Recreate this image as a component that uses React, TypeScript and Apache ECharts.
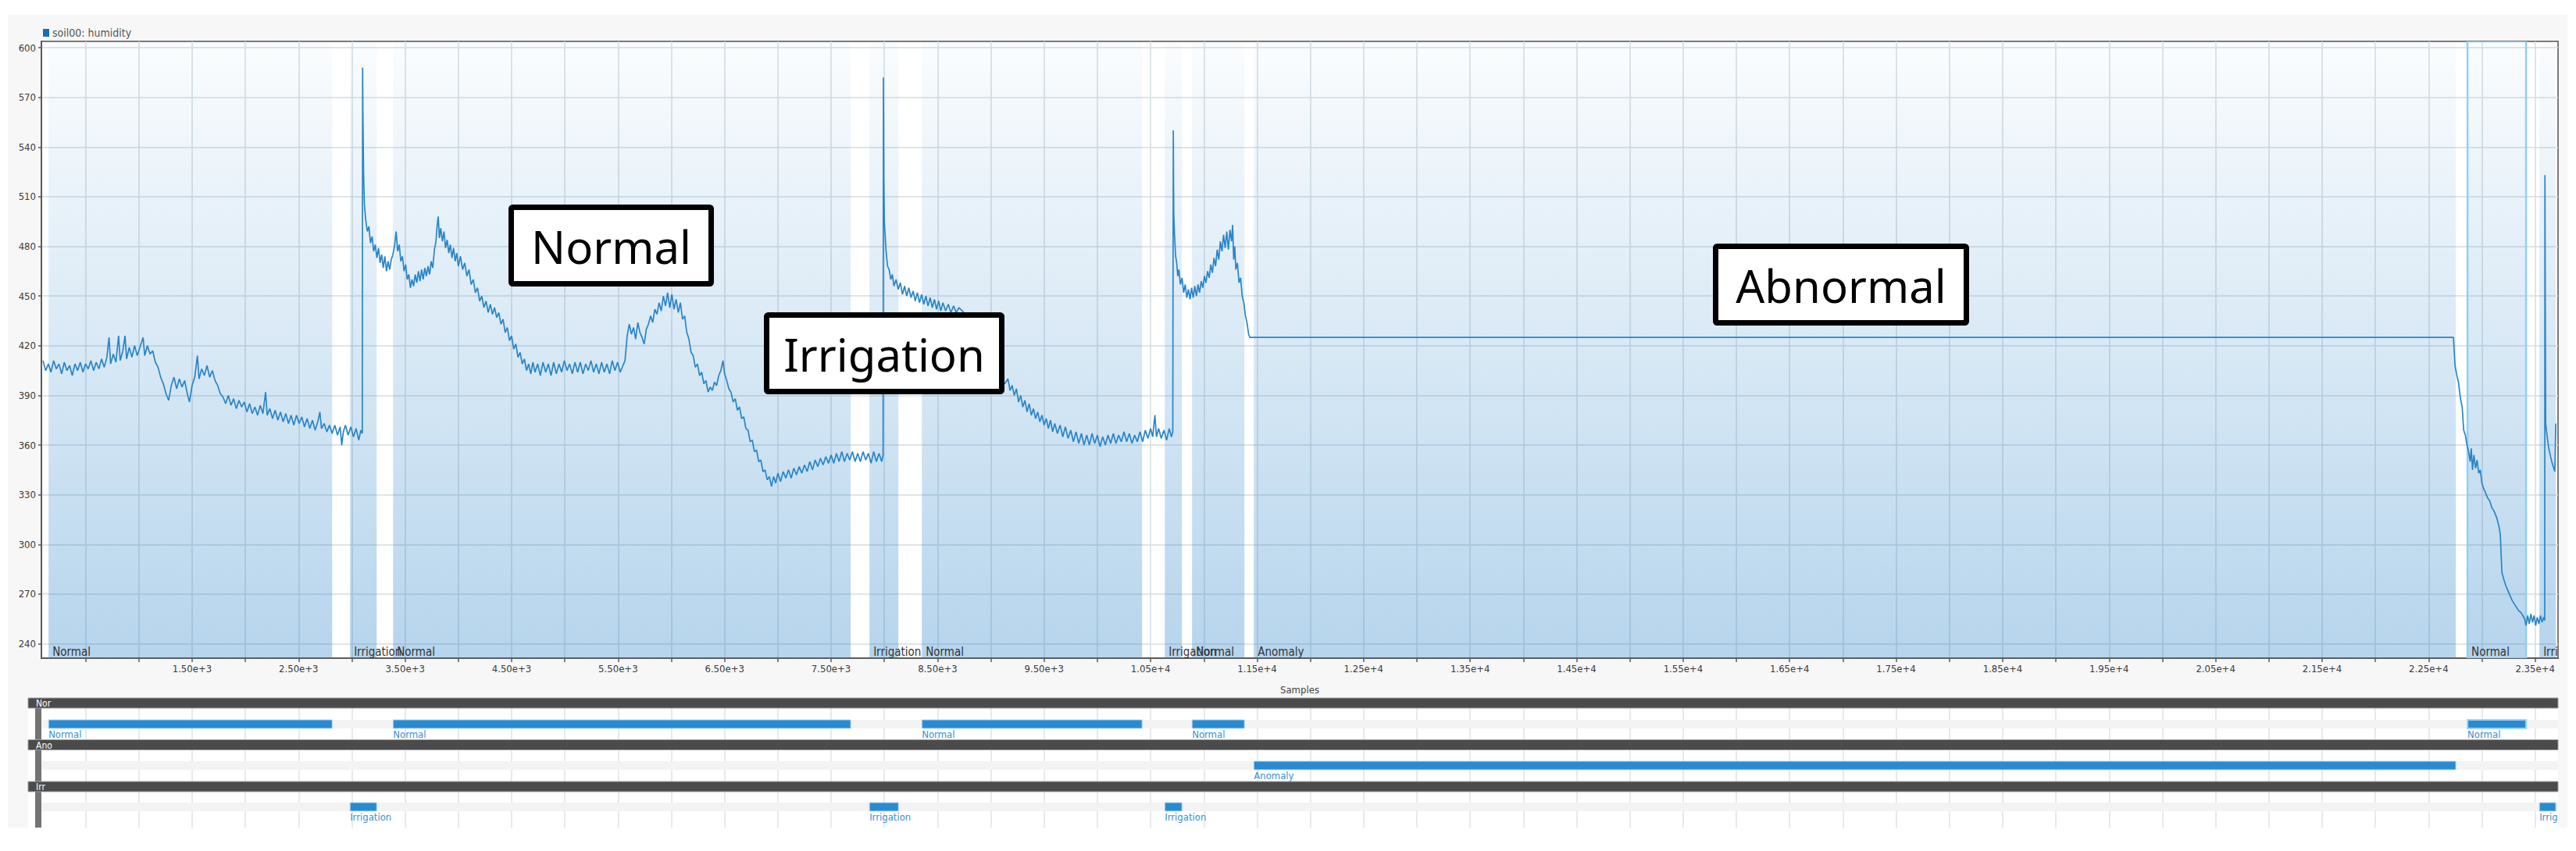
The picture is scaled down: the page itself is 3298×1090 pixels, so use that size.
import React, { useEffect, useRef } from 'react';
import * as echarts from 'echarts';

const SERIES_NAME = 'soil00: humidity';
const X_NAME = 'Samples';

// ---- humidity trace: [sample, value] ----
const trace1: number[][] = [
  [100, 411], [125, 405], [150, 409], [175, 404], [200, 411], [225, 406], [250, 409], [275, 403], [300, 410],
  [325, 405], [350, 408], [375, 402], [400, 409], [425, 405], [450, 410], [475, 404], [500, 409], [525, 406],
  [550, 411], [575, 405], [600, 410], [625, 406], [650, 412], [675, 407], [700, 413], [720, 425], [735, 409],
  [760, 415], [785, 410], [810, 426], [825, 411], [850, 417], [870, 426], [885, 412], [910, 419], [935, 413],
  [960, 420], [985, 414], [1010, 419], [1040, 425], [1055, 414], [1080, 420], [1105, 415], [1130, 417],
  [1155, 410], [1180, 407], [1205, 401], [1230, 397], [1255, 391], [1280, 387], [1305, 396], [1330, 401],
  [1355, 394], [1380, 400], [1405, 395], [1430, 399], [1455, 391], [1475, 386], [1500, 396], [1525, 401],
  [1550, 414], [1565, 400], [1590, 406], [1615, 402], [1640, 408], [1665, 401], [1690, 405], [1715, 399],
  [1740, 396], [1765, 391], [1790, 389], [1815, 385], [1840, 390], [1865, 384], [1890, 388], [1915, 382],
  [1940, 387], [1965, 383], [1990, 386], [2015, 380], [2040, 385], [2065, 379], [2090, 383], [2115, 378],
  [2140, 384], [2165, 379], [2190, 392], [2205, 378], [2230, 382], [2255, 376], [2280, 381], [2305, 375],
  [2330, 380], [2355, 374], [2380, 379], [2405, 373], [2430, 378], [2455, 372], [2480, 378], [2505, 373],
  [2530, 377], [2555, 371], [2580, 376], [2605, 370], [2630, 375], [2655, 369], [2680, 374], [2700, 380],
  [2715, 370], [2740, 373], [2765, 368], [2790, 372], [2815, 367], [2840, 372], [2865, 366], [2890, 371],
  [2905, 360], [2920, 368], [2940, 372], [2965, 366], [2990, 371], [3015, 365], [3040, 370], [3065, 363],
  [3085, 369], [3098, 367],
];

const trace2: number[][] = [
  [3101, 588], [3104, 560], [3110, 525], [3118, 505], [3130, 496], [3145, 489], [3160, 492], [3175, 482],
  [3190, 486], [3205, 477], [3220, 481], [3235, 473], [3250, 479], [3265, 470], [3280, 475], [3295, 467],
  [3310, 474], [3325, 465], [3340, 471], [3355, 466], [3370, 472], [3385, 475], [3400, 480], [3416, 489],
  [3430, 477], [3445, 481], [3460, 471], [3475, 474], [3490, 465], [3505, 469], [3520, 460], [3535, 463],
  [3550, 455], [3565, 460], [3580, 456], [3595, 463], [3610, 458], [3625, 465], [3640, 459], [3655, 466],
  [3670, 460], [3685, 467], [3700, 462], [3715, 468], [3730, 463], [3745, 471], [3760, 467], [3775, 478],
  [3790, 483], [3800, 492], [3811, 498], [3822, 485], [3835, 491], [3850, 483], [3865, 489], [3880, 479],
  [3895, 484], [3910, 476], [3925, 481], [3940, 473], [3955, 479], [3970, 471], [3985, 476], [4000, 468],
  [4020, 474], [4040, 466], [4060, 470], [4080, 462], [4100, 466], [4120, 457], [4140, 460], [4160, 452],
  [4180, 455], [4200, 447], [4220, 450], [4240, 443], [4260, 447], [4280, 440], [4300, 445], [4320, 439],
  [4340, 443], [4360, 437], [4380, 440], [4400, 433], [4420, 436], [4440, 428], [4460, 431], [4480, 423],
  [4500, 426], [4520, 418], [4540, 421], [4560, 413], [4580, 416], [4600, 409], [4620, 412], [4640, 405],
  [4660, 409], [4680, 403], [4700, 410], [4720, 404], [4745, 409], [4770, 402], [4795, 410], [4820, 404],
  [4845, 409], [4870, 402], [4895, 410], [4920, 403], [4945, 409], [4970, 404], [4995, 411], [5020, 405],
  [5045, 409], [5070, 403], [5095, 410], [5120, 404], [5145, 410], [5170, 403], [5195, 409], [5220, 405],
  [5245, 411], [5270, 404], [5295, 409], [5320, 403], [5345, 410], [5370, 404], [5395, 409], [5420, 403],
  [5445, 411], [5470, 405], [5495, 410], [5520, 404], [5545, 408], [5565, 411], [5585, 426], [5605, 433],
  [5625, 427], [5645, 431], [5665, 424], [5685, 434], [5705, 428], [5725, 425], [5745, 421], [5765, 430],
  [5785, 433], [5805, 438], [5825, 434], [5845, 442], [5865, 439], [5885, 446], [5905, 441], [5925, 450],
  [5945, 444], [5965, 452], [5985, 443], [6005, 451], [6025, 442], [6045, 448], [6065, 440], [6085, 446],
  [6105, 436], [6125, 438], [6145, 428], [6165, 424], [6185, 416], [6205, 414], [6225, 407], [6245, 409],
  [6265, 402], [6285, 404], [6305, 397], [6325, 399], [6345, 392], [6365, 395], [6385, 393], [6405, 398],
  [6425, 396], [6445, 402], [6465, 405], [6485, 411], [6500, 403], [6520, 399], [6540, 394], [6560, 392],
  [6580, 386], [6600, 388], [6620, 381], [6640, 383], [6660, 376], [6680, 377], [6700, 370], [6720, 369],
  [6740, 362], [6760, 363], [6780, 356], [6800, 357], [6820, 350], [6840, 351], [6860, 344], [6880, 345],
  [6900, 339], [6920, 341], [6940, 335], [6960, 341], [6980, 337], [7000, 343], [7025, 338], [7050, 344],
  [7075, 340], [7100, 345], [7125, 340], [7150, 346], [7175, 342], [7200, 347], [7225, 343], [7250, 348],
  [7275, 344], [7300, 350], [7325, 345], [7350, 351], [7375, 347], [7400, 352], [7425, 348], [7450, 353],
  [7475, 349], [7500, 354], [7525, 349], [7550, 355], [7575, 350], [7600, 356], [7625, 350], [7650, 355],
  [7675, 351], [7700, 356], [7725, 350], [7750, 355], [7775, 350], [7800, 356], [7825, 351], [7850, 355],
  [7875, 349], [7900, 356], [7925, 350], [7950, 355], [7975, 350], [7988, 354],
];

const trace3: number[][] = [
  [7991, 582], [7995, 520], [8000, 495], [8015, 478], [8030, 468], [8045, 466], [8060, 460], [8075, 463],
  [8090, 456], [8110, 460], [8130, 454], [8150, 458], [8170, 451], [8190, 456], [8210, 450], [8230, 455],
  [8250, 449], [8270, 453], [8290, 447], [8310, 452], [8330, 446], [8350, 451], [8370, 445], [8390, 450],
  [8410, 444], [8430, 449], [8450, 443], [8470, 448], [8490, 442], [8510, 447], [8530, 441], [8550, 446],
  [8575, 441], [8600, 445], [8625, 440], [8650, 444], [8675, 440], [8700, 443], [8733, 441], [8780, 437],
  [8830, 430], [8880, 422], [8930, 414], [8980, 408], [9030, 404], [9080, 400], [9130, 397], [9160, 400],
  [9180, 393], [9200, 396], [9220, 390], [9240, 394], [9260, 386], [9280, 390], [9300, 383], [9320, 387],
  [9340, 380], [9360, 385], [9380, 378], [9400, 382], [9420, 376], [9440, 380], [9460, 374], [9480, 378],
  [9500, 372], [9520, 376], [9540, 370], [9560, 375], [9580, 368], [9600, 373], [9625, 367], [9650, 372],
  [9675, 365], [9700, 371], [9725, 364], [9750, 369], [9775, 362], [9800, 368], [9825, 361], [9850, 367],
  [9875, 360], [9900, 366], [9925, 360], [9950, 367], [9975, 361], [10000, 366], [10025, 359], [10050, 365],
  [10075, 360], [10100, 366], [10125, 361], [10150, 367], [10175, 361], [10200, 366], [10225, 362],
  [10250, 368], [10275, 362], [10300, 367], [10325, 361], [10350, 366], [10375, 362], [10400, 368],
  [10425, 362], [10450, 369], [10475, 364], [10500, 370], [10520, 365], [10540, 378], [10555, 365],
  [10575, 370], [10600, 364], [10625, 369], [10650, 363], [10675, 370], [10695, 365], [10708, 368],
];

const trace4: number[][] = [
  [10713, 550], [10717, 500], [10725, 486], [10735, 474], [10745, 470], [10755, 462], [10765, 466],
  [10780, 457], [10795, 461], [10810, 452], [10825, 457], [10840, 449], [10855, 454], [10870, 448],
  [10885, 455], [10900, 449], [10915, 456], [10930, 450], [10945, 457], [10960, 452], [10975, 459],
  [10990, 455], [11005, 462], [11020, 458], [11035, 465], [11050, 461], [11065, 469], [11080, 464],
  [11095, 473], [11110, 468], [11125, 478], [11140, 472], [11155, 483], [11170, 477], [11185, 487],
  [11200, 479], [11215, 489], [11230, 478], [11245, 490], [11260, 483], [11270, 493], [11280, 472],
  [11290, 480], [11300, 466], [11315, 470], [11330, 458], [11345, 461], [11360, 450], [11375, 446],
  [11390, 438], [11405, 434], [11420, 427], [11432, 425],
];

const flatAnomaly: number[][] = [[11432, 425], [22733, 425]];

const trace5: number[][] = [
  [22748, 408], [22765, 402], [22780, 398], [22799, 388], [22815, 383], [22829, 369], [22845, 366],
  [22860, 360], [22875, 356], [22890, 350], [22900, 358], [22912, 345], [22925, 354], [22940, 346],
  [22955, 351], [22970, 343], [22985, 345], [23000, 337], [23015, 334], [23035, 331], [23055, 328],
  [23075, 326], [23095, 322], [23115, 320], [23140, 316], [23160, 311], [23173, 306], [23180, 295],
  [23188, 283], [23205, 279], [23225, 275], [23245, 272], [23265, 269], [23285, 266], [23305, 264],
  [23325, 262], [23345, 260], [23365, 259], [23385, 257], [23401, 255], [23415, 251], [23430, 257],
  [23445, 252], [23460, 258], [23475, 253], [23490, 257], [23505, 251], [23520, 256], [23535, 252],
  [23550, 257], [23565, 253], [23580, 256], [23590, 254], [23592, 523], [23599, 373], [23615, 364],
  [23628, 358], [23645, 353], [23660, 349], [23675, 346], [23685, 344], [23694, 373],
];

// ---- labelled regions [start sample, end sample] ----
const normalRanges: number[][] = [[152, 2815], [3387, 7684], [8352, 10420], [10889, 11381], [22865, 23415]];
const irrigationRanges: number[][] = [[2983, 3233], [7860, 8132], [10633, 10794], [23540, 23694]];
const anomalyRanges: number[][] = [[11469, 22755]];
const selectedRange = [22865, 23415];

const regionKinds = ['Normal', 'Irrigation', 'Anomaly'];
const timelineRows = ['Nor', 'Ano', 'Irr'];

// ---- axes ----
const X_MIN = 85;
const X_MAX = 23715;
const Y_MIN = 231.3;
const Y_MAX = 603.8;
const xTickValues = [
  500, 1000, 1500, 2000, 2500, 3000, 3500, 4000, 4500, 5000, 5500, 6000, 6500, 7000, 7500, 8000, 8500, 9000,
  9500, 10000, 10500, 11000, 11500, 12000, 12500, 13000, 13500, 14000, 14500, 15000, 15500, 16000, 16500,
  17000, 17500, 18000, 18500, 19000, 19500, 20000, 20500, 21000, 21500, 22000, 22500, 23000, 23500,
];
const xLabelValues = [
  1500, 2500, 3500, 4500, 5500, 6500, 7500, 8500, 9500, 10500, 11500, 12500, 13500, 14500, 15500, 16500,
  17500, 18500, 19500, 20500, 21500, 22500, 23500,
];
const yTickValues = [240, 270, 300, 330, 360, 390, 420, 450, 480, 510, 540, 570, 600];

const annotations = [
  { text: 'Normal', box: [654.5, 265.5, 256, 98] },
  { text: 'Irrigation', box: [981.5, 403.5, 301, 98] },
  { text: 'Abnormal', box: [2196.5, 315.5, 321, 98] },
];

const NARROW = "'Liberation Sans Narrow', 'Arial Narrow', 'DejaVu Sans Condensed', 'Liberation Sans', sans-serif";

function buildOption() {
  const lineData = [...trace1, ...trace2, ...trace3, ...trace4, ...flatAnomaly, ...trace5];

  const regionData: number[][] = [
    ...normalRanges.map((r) => [r[0], r[1], 0]),
    ...irrigationRanges.map((r) => [r[0], r[1], 1]),
    ...anomalyRanges.map((r) => [r[0], r[1], 2]),
  ];
  // timeline rows: 0 = Nor, 1 = Ano, 2 = Irr
  const timelineData: number[][] = [
    ...normalRanges.map((r) => [r[0], r[1], 0, 0]),
    ...anomalyRanges.map((r) => [r[0], r[1], 1, 2]),
    ...irrigationRanges.map((r) => [r[0], r[1], 2, 1]),
  ];

  const isSelected = (s: number, e: number) => s === selectedRange[0] && e === selectedRange[1];

  const graphics: any[] = [
    { type: 'rect', z: 50, silent: true, shape: { x: 0, y: 0, width: 3298, height: 19 }, style: { fill: '#ffffff' } },
    { type: 'rect', z: 50, silent: true, shape: { x: 0, y: 0, width: 10, height: 1090 }, style: { fill: '#ffffff' } },
    { type: 'rect', z: 50, silent: true, shape: { x: 3287, y: 0, width: 11, height: 1090 }, style: { fill: '#ffffff' } },
    { type: 'rect', z: 50, silent: true, shape: { x: 0, y: 1060, width: 3298, height: 30 }, style: { fill: '#ffffff' } },
    { type: 'rect', z: 1, silent: true, shape: { x: 36, y: 894, width: 17, height: 166 }, style: { fill: '#ffffff' } },
    { type: 'rect', z: 40, silent: true, shape: { x: 45, y: 894, width: 8, height: 166 }, style: { fill: '#747474' } },
  ];
  timelineRows.forEach((name, i) => {
    const y = 894 + i * 53.5;
    graphics.push({
      type: 'rect', z: 41, silent: true,
      shape: { x: 36, y, width: 3239, height: 13 },
      style: { fill: '#4b4b4b', stroke: '#a0a0a0', lineWidth: 1 },
    });
    graphics.push({
      type: 'text', z: 42, silent: true,
      style: { text: name, x: 46, y: y + 7, fill: '#ffffff', font: `12px ${NARROW}`, align: 'left', verticalAlign: 'middle' },
    });
  });
  annotations.forEach((a) => {
    const [x, y, w, h] = a.box;
    graphics.push({
      type: 'rect', z: 60, silent: true,
      shape: { x, y, width: w, height: h, r: 2 },
      style: { fill: '#ffffff', stroke: '#000000', lineWidth: 7 },
    });
    graphics.push({
      type: 'text', z: 61, silent: true,
      style: {
        text: a.text, x: x + w / 2, y: y + h / 2 + 1, fill: '#000000',
        font: "58px 'Noto Sans', 'Open Sans', sans-serif", align: 'center', verticalAlign: 'middle',
      },
    });
  });

  return {
    animation: false,
    backgroundColor: '#f7f7f7',
    legend: {
      show: true,
      data: [SERIES_NAME],
      left: 50,
      top: 30,
      icon: 'rect',
      itemWidth: 8,
      itemHeight: 10,
      itemGap: 6,
      selectedMode: false,
      textStyle: { fontSize: 14, color: '#555555', fontFamily: NARROW, padding: [0, 0, 0, -1] },
    },
    grid: [
      {
        left: 53, right: 23, top: 53, bottom: 247,
        show: true, backgroundColor: '#ffffff', borderColor: '#7a7a7a', borderWidth: 2,
        containLabel: false, outerBoundsMode: 'none',
      },
      {
        left: 53, right: 23, top: 894, height: 166,
        show: true, backgroundColor: '#ffffff', borderWidth: 0,
        containLabel: false, outerBoundsMode: 'none',
      },
    ],
    xAxis: [
      {
        type: 'value', gridIndex: 0, min: X_MIN, max: X_MAX,
        name: X_NAME, nameLocation: 'middle', nameGap: 34,
        nameTextStyle: { fontSize: 13, color: '#444444', fontFamily: NARROW },
        axisLine: { show: true, lineStyle: { color: '#5a5a5a', width: 2 } },
        axisTick: { show: true, customValues: xTickValues, length: 5, lineStyle: { color: '#5a5a5a', width: 1.5 } },
        axisLabel: {
          show: true, customValues: xLabelValues, margin: 7, fontSize: 13, color: '#3a3a3a', fontFamily: NARROW,
          formatter: (v: number) => Number(v).toExponential(2),
        },
        splitLine: { show: true, lineStyle: { color: '#d5dce2', width: 1.5 } },
      },
      {
        type: 'value', gridIndex: 1, min: X_MIN, max: X_MAX,
        axisLine: { show: false },
        axisTick: { show: false, customValues: xTickValues },
        axisLabel: { show: false, customValues: xTickValues },
        splitLine: { show: true, lineStyle: { color: '#e2e2e2', width: 1.5 } },
      },
    ],
    yAxis: [
      {
        type: 'value', gridIndex: 0, min: Y_MIN, max: Y_MAX,
        axisLine: { show: true, lineStyle: { color: '#5a5a5a', width: 2 } },
        axisTick: { show: true, customValues: yTickValues, length: 4, lineStyle: { color: '#5a5a5a', width: 1.5 } },
        axisLabel: { show: true, customValues: yTickValues, margin: 7, fontSize: 13, color: '#3a3a3a', fontFamily: NARROW },
        splitLine: { show: true, lineStyle: { color: '#d5dce2', width: 1.5 } },
      },
      {
        type: 'value', gridIndex: 1, min: -0.632, max: 2.5, inverse: true, show: false,
        splitLine: { show: false },
      },
    ],
    series: [
      {
        type: 'custom',
        name: 'regions',
        xAxisIndex: 0, yAxisIndex: 0,
        z: 1,
        clip: true,
        silent: true,
        data: regionData,
        renderItem: (params: any, api: any) => {
          const s = api.value(0);
          const e = api.value(1);
          const k = api.value(2);
          const cs = params.coordSys;
          const x0 = api.coord([s, 400])[0];
          const x1 = api.coord([e, 400])[0];
          const sel = isSelected(s, e);
          return {
            type: 'group',
            children: [
              {
                type: 'rect',
                shape: { x: x0, y: cs.y, width: x1 - x0, height: cs.height },
                style: {
                  fill: new echarts.graphic.LinearGradient(0, 0, 0, 1, [
                    { offset: 0, color: 'rgba(40,130,200,0.02)' },
                    { offset: 1, color: 'rgba(40,130,200,0.34)' },
                  ]),
                  stroke: sel ? '#8fd0f6' : null,
                  lineWidth: sel ? 2.5 : 0,
                },
              },
              {
                type: 'text',
                style: {
                  text: regionKinds[k], x: x0 + 5, y: cs.y + cs.height - 1,
                  fill: '#333333', font: `15px ${NARROW}`, align: 'left', verticalAlign: 'bottom',
                },
              },
            ],
          };
        },
      },
      {
        type: 'line',
        name: SERIES_NAME,
        xAxisIndex: 0, yAxisIndex: 0,
        z: 3,
        data: lineData,
        showSymbol: false,
        symbol: 'none',
        color: '#1b6db5',
        lineStyle: { color: '#2985c9', width: 1.7 },
        silent: true,
      },
      {
        type: 'custom',
        name: 'rowStripes',
        xAxisIndex: 1, yAxisIndex: 1,
        z: 1,
        silent: true,
        data: timelineRows.map((_, i) => [X_MIN, i]),
        renderItem: (params: any, api: any) => {
          const cs = params.coordSys;
          const yc = api.coord([api.value(0), api.value(1)])[1];
          return {
            type: 'rect',
            shape: { x: cs.x, y: yc - 5.5, width: cs.width, height: 11 },
            style: { fill: '#f3f3f3' },
          };
        },
      },
      {
        type: 'custom',
        name: 'timeline',
        xAxisIndex: 1, yAxisIndex: 1,
        z: 3,
        clip: true,
        silent: true,
        data: timelineData,
        renderItem: (params: any, api: any) => {
          const s = api.value(0);
          const e = api.value(1);
          const row = api.value(2);
          const k = api.value(3);
          const p0 = api.coord([s, row]);
          const p1 = api.coord([e, row]);
          const sel = isSelected(s, e);
          return {
            type: 'group',
            children: [
              {
                type: 'rect',
                shape: { x: p0[0], y: p0[1] - 5.5, width: p1[0] - p0[0], height: 11 },
                style: { fill: '#2a8ad1', stroke: sel ? '#9ad4f7' : '#b5dcf5', lineWidth: sel ? 2 : 1 },
              },
              {
                type: 'text',
                style: {
                  text: regionKinds[k], x: p0[0], y: p0[1] + 6.5,
                  fill: '#3a8fd3', font: `13px ${NARROW}`, align: 'left', verticalAlign: 'top',
                },
              },
            ],
          };
        },
      },
    ],
    graphic: graphics,
  };
}

export default function App() {
  const ref = useRef<HTMLDivElement>(null);
  useEffect(() => {
    document.body.style.margin = '0';
    document.body.style.overflow = 'hidden';
    const chart = echarts.init(ref.current as HTMLDivElement, null, { renderer: 'svg' });
    chart.setOption(buildOption() as any);
    return () => {
      chart.dispose();
    };
  }, []);
  return <div ref={ref} style={{ width: 3298, height: 1090 }} />;
}
